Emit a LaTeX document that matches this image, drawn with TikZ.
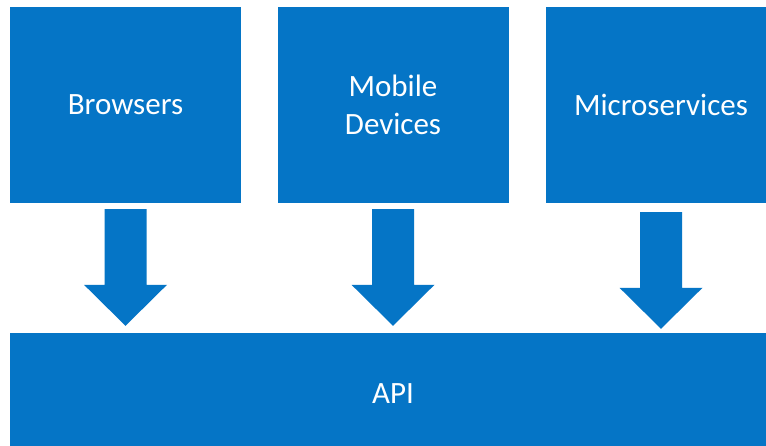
\documentclass[tikz,border=0pt]{standalone}
\usepackage{fontspec}
\setmainfont{Carlito}
\usetikzlibrary{calc}
\definecolor{boxblue}{RGB}{5,117,198}
\tikzset{
  tier/.style={fill=boxblue, draw=none, inner sep=0pt, text=white,
    font=\fontsize{31}{38}\selectfont, align=center},
  clientbox/.style={tier, minimum width=231pt, minimum height=196pt},
}
% block arrow from a client box down to the API bar
\newcommand\blockarrow[3]{%
  \path (#1.south) ++(0,-#2) coordinate (t-#1);
  \path (#1.south |- api.north) ++(0,#3) coordinate (tip-#1);
  \fill[boxblue] ($(t-#1)+(-21,0)$) -- ($(t-#1)+(21,0)$)
    -- ($(tip-#1)+(21,41)$) -- ($(tip-#1)+(41.5,41)$) -- (tip-#1)
    -- ($(tip-#1)+(-41.5,41)$) -- ($(tip-#1)+(-21,41)$) -- cycle;
}
\begin{document}
\begin{tikzpicture}[x=1pt,y=1pt]
  \useasboundingbox (0,0) rectangle (766,445);
  \clip (0,0) rectangle (766,445);
  \fill[white] (0,0) rectangle (766,445);

  \node[clientbox] (browsers) at (125.5,340) {Browsers};
  \node[clientbox] (mobile)   at (393,340)   {Mobile\\Devices};
  \node[clientbox] (micro)    at (661,340)   {Microservices};

  \node[tier, minimum width=766pt, minimum height=122pt] (api) at (393,51) {API};

  \blockarrow{browsers}{6}{7}
  \blockarrow{mobile}{6}{7}
  \blockarrow{micro}{9}{4}
\end{tikzpicture}
\end{document}
